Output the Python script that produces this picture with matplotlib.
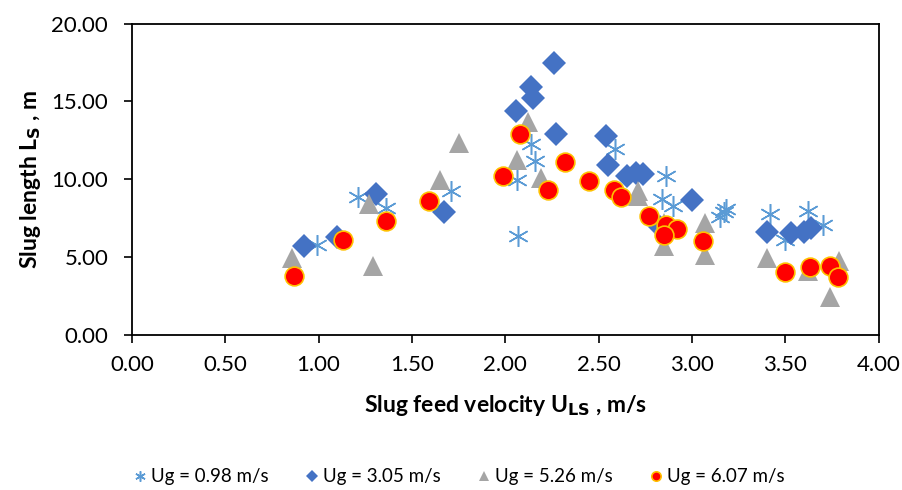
import numpy as np
import matplotlib.pyplot as plt

plt.rcParams['font.family'] = ['Lato', 'DejaVu Sans']

# Ug = 0.98 m/s
x1 = [0.99, 1.21, 1.36, 1.71, 2.07, 2.065, 2.14, 2.16, 2.59, 2.86, 2.84, 2.90,
      3.15, 3.17, 3.18, 3.42, 3.50, 3.62, 3.70]
y1 = [5.80, 8.84, 8.16, 9.23, 6.37, 9.98, 12.30, 11.16, 11.96, 10.24, 8.74, 8.26,
      7.60, 7.90, 8.10, 7.79, 6.10, 7.94, 7.08]

# Ug = 3.05 m/s
x2 = [0.92, 1.10, 1.31, 1.67, 2.06, 2.14, 2.15, 2.26, 2.27, 2.54, 2.55, 2.65,
      2.70, 2.74, 3.00, 2.83, 3.40, 3.53, 3.60, 3.64]
y2 = [5.75, 6.29, 9.06, 7.88, 14.38, 15.95, 15.24, 17.45, 12.92, 12.81, 10.95, 10.24,
      10.41, 10.35, 8.69, 6.97, 6.65, 6.55, 6.65, 6.87]

# Ug = 5.26 m/s
x3 = [0.86, 1.27, 1.29, 1.65, 1.75, 2.12, 2.065, 2.19, 2.71, 2.71, 2.85, 2.85,
      3.07, 3.07, 3.40, 3.62, 3.74, 3.79]
y3 = [4.94, 8.43, 4.44, 9.98, 12.34, 13.69, 11.27, 10.09, 9.23, 8.90, 7.23, 5.69,
      7.23, 5.15, 4.94, 4.10, 2.47, 4.78]

# Ug = 6.07 m/s
x4 = [0.87, 1.13, 1.36, 1.59, 1.99, 2.08, 2.23, 2.32, 2.45, 2.58, 2.62, 2.77,
      2.86, 2.92, 2.85, 3.06, 3.50, 3.63, 3.74, 3.78]
y4 = [3.80, 6.12, 7.34, 8.63, 10.24, 12.88, 9.34, 11.12, 9.92, 9.29, 8.87, 7.62,
      7.08, 6.83, 6.44, 6.07, 4.04, 4.40, 4.44, 3.75]

fig = plt.figure(figsize=(9.03, 4.90), dpi=100)
ax = fig.add_axes([0.146, 0.316, 0.827, 0.636])

ax.plot(x1, y1, linestyle='none', marker=(6, 2, 0), markersize=15,
        markeredgecolor='#5B9BD5', markeredgewidth=1.1, label='Ug = 0.98 m/s')
ax.plot(x2, y2, linestyle='none', marker='D', markersize=12.5,
        color='#4472C4', markeredgewidth=0, label='Ug = 3.05 m/s')
ax.plot(x3, y3, linestyle='none', marker='^', markersize=15,
        color='#A5A5A5', markeredgewidth=0, label='Ug = 5.26 m/s')
ax.plot(x4, y4, linestyle='none', marker='o', markersize=13.5,
        markerfacecolor='#FF0000', markeredgecolor='#FFC000',
        markeredgewidth=1.2, label='Ug = 6.07 m/s')

ax.set_xlim(0, 4)
ax.set_ylim(0, 20)
ax.set_xticks(np.arange(0, 4.01, 0.5))
ax.set_yticks(np.arange(0, 20.01, 5))
ax.set_xticklabels([f'{v:.2f}' for v in np.arange(0, 4.01, 0.5)])
ax.set_yticklabels([f'{v:.2f}' for v in np.arange(0, 20.01, 5)])
ax.tick_params(labelsize=16, length=6, width=1.2, direction='out', color='black')
ax.tick_params(axis='y', pad=11)
ax.tick_params(axis='x', pad=8)

for s in ax.spines.values():
    s.set_linewidth(1.3)

ax.set_xlabel('Slug feed velocity U$_{\\mathbf{LS}}$ , m/s', fontsize=16.5,
              fontweight='bold', labelpad=13)
ax.set_ylabel('Slug length L$_{\\mathbf{S}}$ , m', fontsize=16.5,
              fontweight='bold', labelpad=6)

fig.legend(loc='center', bbox_to_anchor=(0.508, 0.027), ncol=4, frameon=False,
           fontsize=13.5, handletextpad=0.2, columnspacing=1.9, markerscale=0.5,
           handlelength=0.8)

fig.savefig('out.png', dpi=100)
